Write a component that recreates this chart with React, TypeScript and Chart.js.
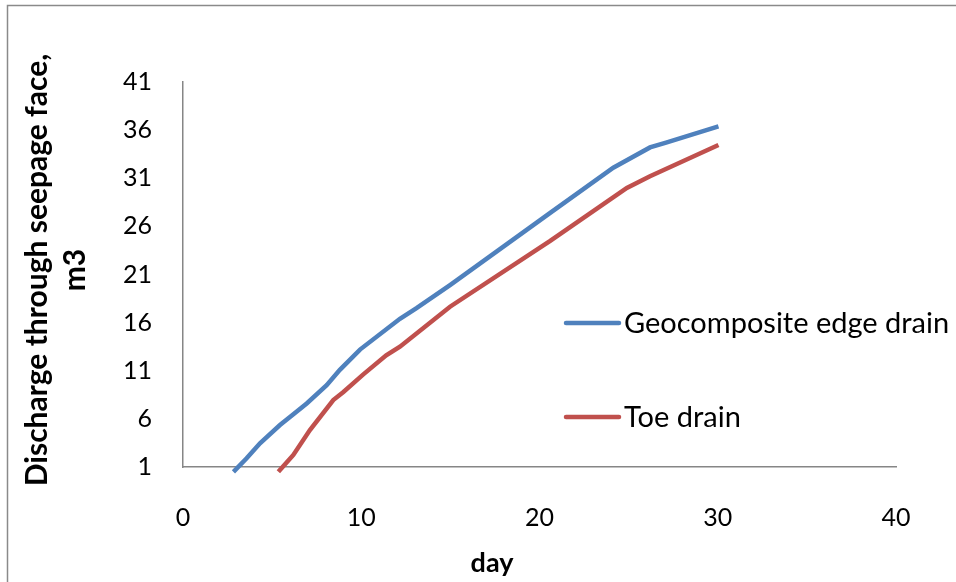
import React, { useEffect, useRef } from "react";
import { Chart, registerables } from "chart.js";

Chart.register(...registerables);

// ---- data ----
const seriesNames = ["Geocomposite edge drain", "Toe drain"];
const geoDays = [2.83, 3.57, 4.32, 5.44, 6.0, 6.94, 8.06, 8.8, 9.93, 12.17, 13.1, 14.98, 20.6, 24.14, 26.2, 27.1, 30.04];
const geoDischarge = [0.5, 1.9, 3.46, 5.36, 6.2, 7.6, 9.5, 11.1, 13.2, 16.4, 17.5, 19.9, 27.4, 32.1, 34.2, 34.7, 36.4];
const toeDays = [5.35, 6.19, 7.12, 8.43, 9.0, 10.1, 11.4, 12.17, 14.98, 20.6, 24.9, 26.2, 30.04];
const toeDischarge = [0.5, 2.25, 4.84, 7.96, 8.8, 10.6, 12.6, 13.5, 17.65, 24.5, 30.0, 31.2, 34.45];
const xTicks = [0, 10, 20, 30, 40];
const yTicks = [1, 6, 11, 16, 21, 26, 31, 36, 41];
const xTitle = "day";
const yTitleLines = ["Discharge through seepage face,", "m3"];

const BLUE = "#4F81BD";
const RED = "#C0504D";
const AXIS = "#868686";
const FONT = "Lato, 'Open Sans', sans-serif";

const decorPlugin = {
  id: "decor",
  beforeDraw(chart: any) {
    const ctx = chart.ctx;
    ctx.save();
    ctx.fillStyle = "#ffffff";
    ctx.fillRect(0, 0, chart.width, chart.height);
    ctx.strokeStyle = "#8a8a8a";
    ctx.lineWidth = 1.5;
    ctx.strokeRect(7.5, 5.5, chart.width + 20, chart.height + 20);
    ctx.restore();
  },
  afterDraw(chart: any) {
    const ctx = chart.ctx;
    ctx.save();
    ctx.fillStyle = "#000000";
    // y title
    ctx.font = `bold 30px ${FONT}`;
    ctx.textAlign = "center";
    ctx.textBaseline = "alphabetic";
    ctx.translate(47, 270);
    ctx.rotate(-Math.PI / 2);
    yTitleLines.forEach((l, i) => ctx.fillText(l, 0, i * 38));
    ctx.restore();

    ctx.save();
    ctx.fillStyle = "#000000";
    ctx.font = `bold 27px ${FONT}`;
    ctx.textAlign = "center";
    ctx.textBaseline = "alphabetic";
    ctx.fillText(xTitle, 492, 572);
    ctx.restore();

    // legend
    ctx.save();
    const ys = [323, 417];
    chart.data.datasets.forEach((ds: any, i: number) => {
      ctx.strokeStyle = ds.borderColor;
      ctx.lineWidth = 4.5;
      ctx.lineCap = "round";
      ctx.beginPath();
      ctx.moveTo(566, ys[i]);
      ctx.lineTo(619, ys[i]);
      ctx.stroke();
      ctx.fillStyle = "#000000";
      ctx.font = `29px ${FONT}`;
      ctx.textAlign = "left";
      ctx.textBaseline = "alphabetic";
      ctx.fillText(ds.label, 624, ys[i] + 10);
    });
    ctx.restore();
  },
};

export default function App() {
  const ref = useRef<HTMLCanvasElement>(null);
  useEffect(() => {
    document.body.style.margin = "0";
    const chart = new Chart(ref.current!, {
      type: "line",
      data: {
        datasets: [
          {
            label: seriesNames[0],
            data: geoDays.map((d, i) => ({ x: d, y: geoDischarge[i] })),
            borderColor: BLUE,
            backgroundColor: BLUE,
            borderWidth: 4.5,
            pointRadius: 0,
            tension: 0,
            clip: 8,
          },
          {
            label: seriesNames[1],
            data: toeDays.map((d, i) => ({ x: d, y: toeDischarge[i] })),
            borderColor: RED,
            backgroundColor: RED,
            borderWidth: 4.5,
            pointRadius: 0,
            tension: 0,
            clip: 8,
          },
        ],
      },
      options: {
        animation: false,
        responsive: false,
        maintainAspectRatio: false,
        layout: { padding: { top: 82, right: 60, left: 0, bottom: 0 } },
        plugins: { legend: { display: false }, tooltip: { enabled: false } },
        scales: {
          x: {
            type: "linear",
            min: xTicks[0],
            max: xTicks[xTicks.length - 1],
            afterBuildTicks: (s: any) => {
              s.ticks = xTicks.map((v) => ({ value: v }));
            },
            afterFit: (s: any) => {
              s.height = 115;
            },
            grid: { display: false, drawTicks: false },
            border: { display: true, color: AXIS, width: 1.5 },
            ticks: { font: { family: FONT, size: 25 }, color: "#000", padding: 36, maxRotation: 0 },
          },
          y: {
            type: "linear",
            min: yTicks[0],
            max: yTicks[yTicks.length - 1],
            afterBuildTicks: (s: any) => {
              s.ticks = yTicks.map((v) => ({ value: v }));
            },
            afterFit: (s: any) => {
              s.width = 183;
            },
            grid: { display: false, drawTicks: false },
            border: { display: true, color: AXIS, width: 1.5 },
            ticks: { font: { family: FONT, size: 25 }, color: "#000", padding: 31 },
          },
        },
      },
      plugins: [decorPlugin],
    });
    return () => chart.destroy();
  }, []);
  return (
    <div style={{ position: "absolute", left: 0, top: 0, width: 956, height: 582 }}>
      <canvas ref={ref} width={956} height={582} style={{ display: "block" }} />
    </div>
  );
}
